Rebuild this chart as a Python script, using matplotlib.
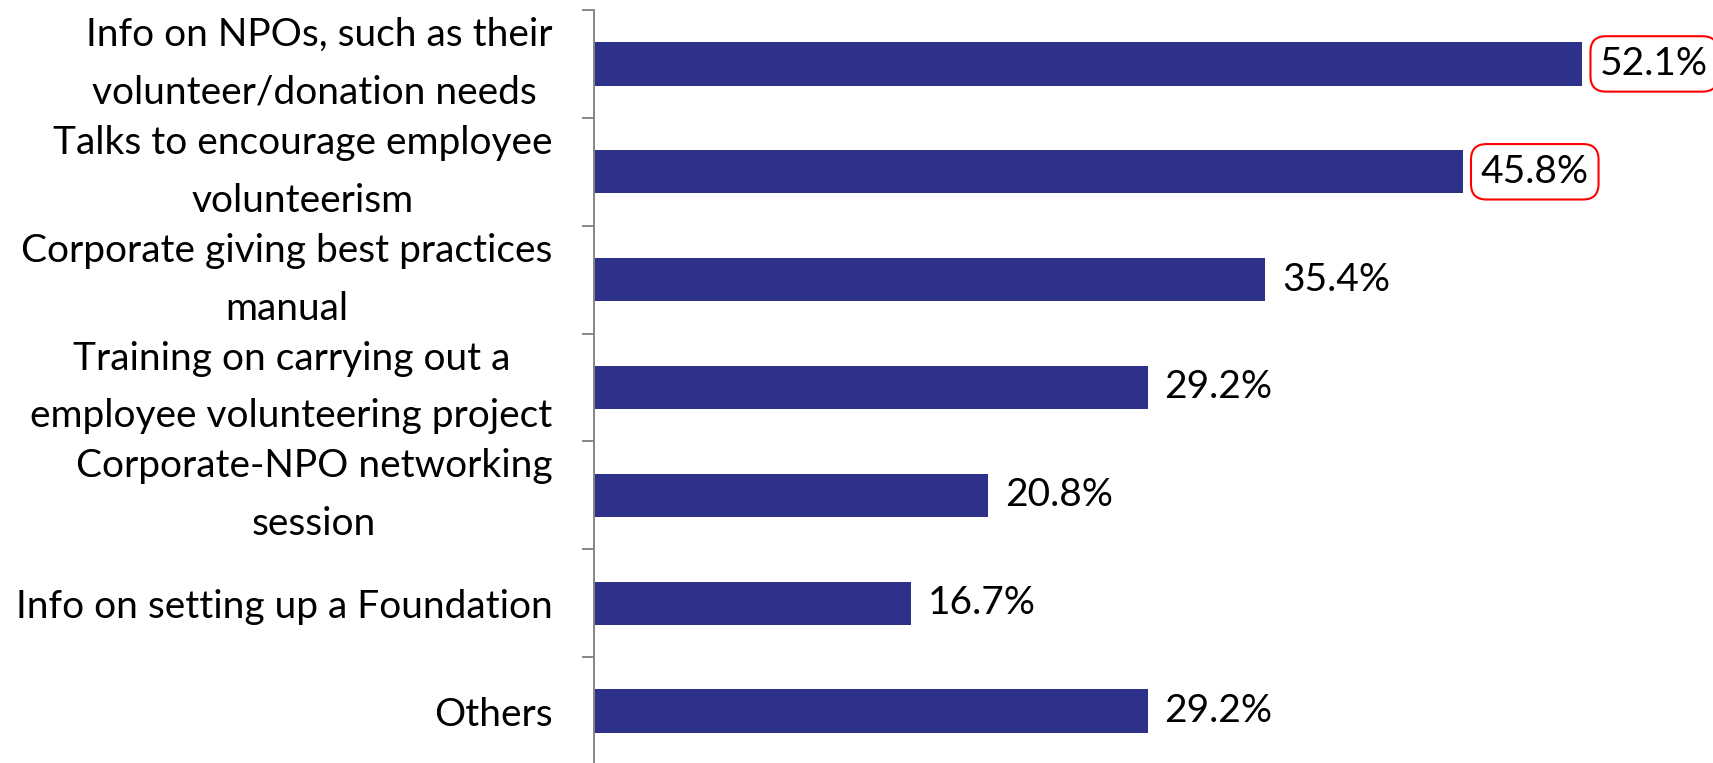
import matplotlib.pyplot as plt
import numpy as np

plt.rcParams['font.family'] = ['Lato', 'DejaVu Sans']

categories = [
    "Info on NPOs, such as their\nvolunteer/donation needs ",
    "Talks to encourage employee\nvolunteerism",
    "Corporate giving best practices\nmanual",
    "Training on carrying out a\nemployee volunteering project",
    "Corporate-NPO networking\nsession",
    "Info on setting up a Foundation",
    "Others",
]
values = [52.1, 45.8, 35.4, 29.2, 20.8, 16.7, 29.2]
highlight = [True, True, False, False, False, False, False]

fig = plt.figure(figsize=(17.13, 7.63), dpi=100)
ax = fig.add_axes([594 / 1713, -2 / 763, 1 - 594 / 1713, 755 / 763])

y = np.arange(len(categories))
ax.barh(y, values, height=0.4, color='#2E318A')

ax.set_xlim(0, 59)
ax.set_ylim(len(categories) - 0.5, -0.5)

# labels at category centres, tick marks between categories
ax.set_yticks(y)
ax.set_yticklabels(categories, fontsize=28)
ax.tick_params(axis='y', which='major', length=0, pad=30)
for lbl in ax.get_yticklabels():
    lbl.set_multialignment('center')
    if '\n' in lbl.get_text():
        lbl.set_linespacing(1.75)
        lbl.set_va('center')
ax.set_yticks(np.arange(len(categories) + 1) - 0.5, minor=True)
ax.tick_params(axis='y', which='minor', length=8.6, width=1.4, color='#868686')

ax.set_xticks([])
for s in ['top', 'right', 'bottom']:
    ax.spines[s].set_visible(False)
ax.spines['left'].set_color('#868686')
ax.spines['left'].set_linewidth(1.4)

for yi, v, hl in zip(y, values, highlight):
    if hl:
        ax.annotate(f"{v:.1f}%", (v, yi), xytext=(13, 0), textcoords='offset points',
                    va='center', ha='left', fontsize=28,
                    bbox=dict(boxstyle='round,pad=0.25,rounding_size=0.4',
                              fc='white', ec='red', lw=1.5))
    else:
        ax.annotate(f"{v:.1f}%", (v, yi), xytext=(12, 0), textcoords='offset points',
                    va='center', ha='left', fontsize=28)

fig.savefig('out.png', dpi=100)
